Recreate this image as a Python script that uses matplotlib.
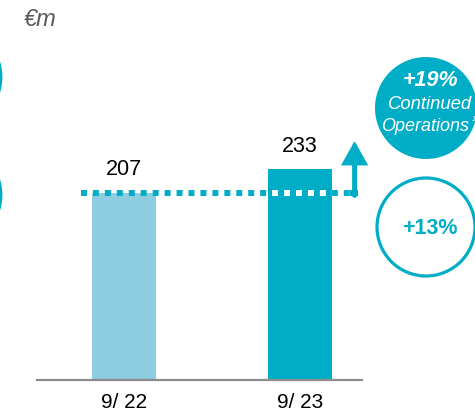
import matplotlib.pyplot as plt
from matplotlib.patches import Circle

plt.rcParams['font.family'] = ['Liberation Sans', 'DejaVu Sans']

periods = ["9/ 22", "9/ 23"]
values = [207, 233]
bar_colors = ["#8ecde0", "#00adc6"]
teal = "#00adc6"

growth_total = "+13%"
growth_cont = "+19%"
cont_lines = ["Continued", "Operations"]

fig = plt.figure(figsize=(4.75, 4.15), dpi=100)

# overlay in pixel units for the badges
ov = fig.add_axes([0, 0, 1, 1])
ov.set_xlim(0, 475)
ov.set_ylim(415, 0)
ov.axis("off")

ov.add_patch(Circle((426, 108), 51, facecolor=teal, edgecolor="none"))
ov.add_patch(Circle((426, 227), 49, facecolor="none", edgecolor=teal, lw=2.3))
ov.add_patch(Circle((-51, 77), 52, facecolor="none", edgecolor=teal, lw=2.0))
ov.add_patch(Circle((-51, 195), 52, facecolor="none", edgecolor=teal, lw=2.0))

ov.text(430, 80, growth_cont, color="white", fontsize=15.5, fontweight="bold",
        style="italic", ha="center", va="center")
ov.text(430, 104, cont_lines[0], color="white", fontsize=13.3, style="italic",
        ha="center", va="center")
ov.text(425, 126, cont_lines[1], color="white", fontsize=13, style="italic",
        ha="center", va="center")
ov.text(471.5, 119, "1", color="white", fontsize=5.5, style="italic",
        ha="left", va="center")
ov.text(430, 228, growth_total, color=teal, fontsize=15.5, fontweight="bold",
        ha="center", va="center")
ov.text(24, 19, "€m", color="#595959", fontsize=17, style="italic",
        ha="left", va="center")

# bar chart
ax = fig.add_axes([37 / 475, 35 / 415, 325 / 475, 380 / 415])
ax.set_facecolor("none")
x = [0, 1]
bars = ax.bar(x, values, width=0.364, color=bar_colors, zorder=2)
ax.set_xlim(-0.494, 1.352)
ax.set_ylim(0, 420)

for xi, v in zip(x, values):
    ax.annotate(str(v), (xi, v), xytext=(0, 16.5), textcoords="offset points",
                ha="center", va="center", fontsize=15.5, color="black")

# dotted reference line at the prior-year level
base = values[0]
ax.plot([-0.245, 1.285], [base, base], color=teal, lw=4.3,
        dashes=(1, 1), solid_capstyle="butt", dash_capstyle="butt", zorder=3)
white = ax.plot([-0.245, 1.285], [base, base], color="white", lw=4.3,
                dashes=(1, 1), dash_capstyle="butt", zorder=4)[0]
white.set_clip_path(bars[1])
ax.plot([1.285, 1.327], [base, base], color=teal, lw=4.3,
        solid_capstyle="butt", zorder=3)

# growth arrow
ax.annotate("", xy=(1.31, 264), xytext=(1.31, base - 3),
            arrowprops=dict(arrowstyle="-|>,head_length=0.8,head_width=0.45",
                            color=teal, lw=3.6, mutation_scale=15,
                            shrinkA=0, shrinkB=0, joinstyle="miter"),
            zorder=5)

for s in ["top", "right", "left"]:
    ax.spines[s].set_visible(False)
ax.spines["bottom"].set_color("#8c8c8c")
ax.spines["bottom"].set_linewidth(1.6)
ax.set_yticks([])
ax.set_xticks(x)
ax.set_xticklabels(periods, fontsize=15)
ax.tick_params(axis="x", length=0, pad=9.5)

fig.savefig("out.png", dpi=100)
